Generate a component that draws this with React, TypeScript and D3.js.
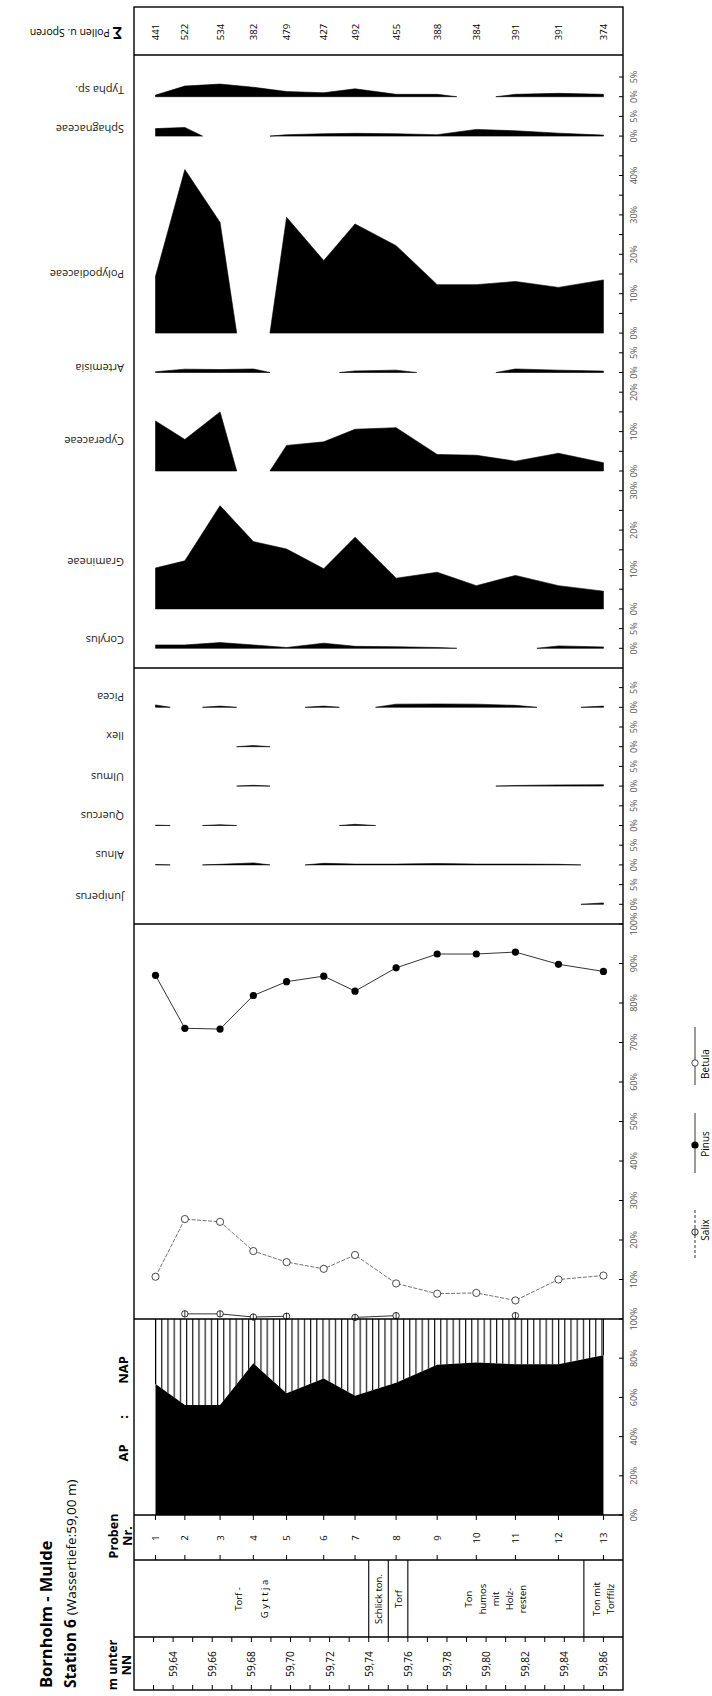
import React from 'react';
import * as d3 from 'd3';

// samples (Proben Nr.) and their depth in m unter NN
const samples = [1, 2, 3, 4, 5, 6, 7, 8, 9, 10, 11, 12, 13];
const sampleDepth = [59.631, 59.646, 59.664, 59.681, 59.698, 59.717, 59.733, 59.754, 59.775, 59.795, 59.815, 59.837, 59.86];
const pollenSum = [441, 522, 534, 382, 479, 427, 492, 455, 388, 384, 391, 391, 374];

const depthTicks = d3.range(59.63, 59.865, 0.01);
const depthLabels = d3.range(59.64, 59.865, 0.02);

// sediment column
const sedimentBounds = [59.62, 59.74, 59.75, 59.76, 59.85, 59.87];
const sedimentText = [['Torf -', 'G y t t j a'], ['Schlick ton.'], ['Torf'], ['Ton', 'humos', 'mit', 'Holz-', 'resten'], ['Ton mit', 'Torffilz']];

// non-tree + spores panel (top to bottom)
const herbTaxa = ['Typha sp.', 'Sphagnaceae', 'Polypodiaceae', 'Artemisia', 'Cyperaceae', 'Gramineae', 'Corylus'];
const herbMax = [5, 5, 45, 5, 20, 30, 5];
const typha = [0.4, 2.7, 3.2, 2.4, 1.3, 1.0, 2.0, 0.6, 0.6, 0, 0.6, 0.85, 0.6];
const sphagnaceae = [1.9, 2.2, 0, 0, 0.35, 0.6, 0.7, 0.6, 0.35, 1.7, 1.35, 0.75, 0.25];
const polypodiaceae = [14.4, 41.5, 28.1, 0, 29.4, 18.4, 27.7, 22.2, 12.3, 12.3, 13.1, 11.6, 13.5];
const artemisia = [0.2, 0.85, 0.75, 0.9, 0, 0, 0.4, 0.6, 0, 0, 0.9, 0.6, 0.35];
const cyperaceae = [12.7, 8.0, 15.0, 0, 6.5, 7.4, 10.6, 11.0, 4.2, 4.0, 2.5, 4.5, 2.1];
const gramineae = [10.4, 12.2, 26.2, 17.1, 15.2, 10.2, 18.2, 7.8, 9.3, 5.9, 8.5, 5.9, 4.5];
const corylus = [0.85, 0.85, 1.45, 0.85, 0.2, 1.3, 0.5, 0.4, 0.2, 0, 0, 0.6, 0.35];
const herbValues = [typha, sphagnaceae, polypodiaceae, artemisia, cyperaceae, gramineae, corylus];

// minor trees panel
const treeTaxa = ['Picea', 'Ilex', 'Ulmus', 'Quercus', 'Alnus', 'Juniperus'];
const treeMax = [5, 5, 5, 5, 5, 5];
const picea = [0.6, 0, 0.3, 0, 0, 0.3, 0, 0.8, 0.85, 0.8, 0.5, 0, 0.3];
const ilex = [0, 0, 0, 0.3, 0, 0, 0, 0, 0, 0, 0, 0, 0];
const ulmus = [0, 0, 0, 0.2, 0, 0, 0, 0, 0, 0, 0.15, 0.3, 0.35];
const quercus = [0.1, 0, 0.2, 0, 0, 0, 0.3, 0, 0, 0, 0, 0, 0];
const alnus = [0.1, 0, 0.15, 0.5, 0, 0.4, 0.2, 0.2, 0.35, 0.2, 0.2, 0.15, 0];
const juniperus = [0, 0, 0, 0, 0, 0, 0, 0, 0, 0, 0, 0, 0.35];
const treeValues = [picea, ilex, ulmus, quercus, alnus, juniperus];

// main tree curves and AP
const pinus = [87.0, 73.6, 73.4, 81.9, 85.4, 86.8, 83.0, 88.9, 92.4, 92.4, 92.9, 89.8, 88.0];
const betula = [10.7, 25.3, 24.6, 17.2, 14.4, 12.7, 16.2, 9.0, 6.4, 6.6, 4.7, 10.0, 11.0];
const salix = [null, 1.3, 1.3, 0.5, 0.7, null, 0.4, 0.85, null, null, 0.85, null, null];
const ap = [66.8, 56.1, 56.1, 77.4, 62.1, 69.7, 60.9, 67.5, 76.6, 77.8, 76.9, 76.9, 81.5];

const curveTicks = [10, 20, 30, 40, 50, 60, 70, 80, 90, 100];
const apTicks = [0, 20, 40, 60, 80, 100];

// layout
const L = 134, R = 623;
const yTop = 7, ySum = 55, yHerb = 668, yTree = 924, yCurve = 1319, yAP = 1515, yProben = 1560, ySed = 1637, yBottom = 1690;
const K = 3.94; // px per percent in the taxon panels
const herbLabelAt = [1.6, 1.8, 15, 1, 7.4, 11.7, 2];
const treeLabelAt = [2.5, 2.5, 2.3, 2.4, 2.5, 1.8];
const font = '"Open Sans", "Liberation Sans", sans-serif';

const x = d3.scaleLinear().domain([59.62, 59.87]).range([L, R]);
const xs = sampleDepth.map((d) => x(d));
const yC = d3.scaleLinear().domain([0, 100]).range([yCurve, yTree]);
const yA = d3.scaleLinear().domain([0, 100]).range([yAP, yCurve]);

function baselines(maxes: number[], bottom: number) {
  const out: number[] = [];
  let b = bottom - 5 * K;
  for (let i = maxes.length - 1; i >= 0; i--) {
    out[i] = b;
    b -= (maxes[i] + 5) * K;
  }
  return out;
}

// nonzero runs; a zero sample closes the shape halfway to it
function runs(values: number[]) {
  const out: [number, number][][] = [];
  let cur: [number, number][] | null = null;
  values.forEach((v, i) => {
    if (v > 0) {
      if (!cur) cur = [[i === 0 ? xs[0] : (xs[i - 1] + xs[i]) / 2, 0]];
      cur.push([xs[i], v]);
    } else if (cur) {
      cur.push([(xs[i - 1] + xs[i]) / 2, 0]);
      out.push(cur);
      cur = null;
    }
  });
  if (cur) {
    (cur as [number, number][]).push([xs[xs.length - 1], 0]);
    out.push(cur);
  }
  return out;
}

function vtext(px: number, py: number, s: string, size: number, extra: any = {}) {
  return (
    <text
      key={`${s}-${px}-${py}`}
      transform={`translate(${px},${py}) rotate(-90)`}
      textAnchor="middle"
      dominantBaseline="central"
      fontSize={size}
      fontFamily={font}
      {...extra}
    >
      {s}
    </text>
  );
}

function TaxonPanel({ names, maxes, values, bottom, labelAt }: any) {
  const base = baselines(maxes, bottom);
  return (
    <g>
      {names.map((name: string, i: number) => {
        const y = d3.scaleLinear().domain([0, maxes[i]]).range([base[i], base[i] - maxes[i] * K]);
        const line = d3.line<[number, number]>().x((d) => d[0]).y((d) => y(d[1]));
        const step = maxes[i] > 5 ? 10 : 5;
        return (
          <g key={name}>
            {runs(values[i]).map((r, j) => (
              <path key={j} d={line(r) + 'Z'} fill="#000" stroke="#000" strokeWidth={0.6} />
            ))}
            {d3.range(0, maxes[i] + 0.1, 5).map((t) => (
              <line key={t} x1={R - 4} x2={R} y1={y(t)} y2={y(t)} stroke="#000" strokeWidth={1} />
            ))}
            {d3.range(0, maxes[i] + 0.1, step).map((t) =>
              vtext(R + 10, y(t), `${t}%`, 9, { fill: '#555' })
            )}
            <text
              transform={`translate(124,${y(labelAt[i])}) rotate(180)`}
              textAnchor="start"
              dominantBaseline="central"
              fontSize={11}
              fontFamily={font}
              fill="#222"
            >
              {name}
            </text>
          </g>
        );
      })}
    </g>
  );
}

function Salix({ cx, cy }: { cx: number; cy: number }) {
  return (
    <g>
      <circle cx={cx} cy={cy} r={3.2} fill="#fff" stroke="#000" strokeWidth={0.8} />
      <line x1={cx} x2={cx} y1={cy - 3.2} y2={cy + 3.2} stroke="#000" strokeWidth={0.8} />
    </g>
  );
}

export default function App() {
  const curve = d3.line<number>().x((d, i) => xs[i]).y((d) => yC(d));
  const salixLine = d3
    .line<number | null>()
    .defined((d) => d != null)
    .x((d, i) => xs[i])
    .y((d) => yC(d as number));
  const apArea = d3.area<number>().x((d, i) => xs[i]).y0(yA(0)).y1((d) => yA(d));
  const napArea = d3.area<number>().x((d, i) => xs[i]).y0(yA(100)).y1((d) => yA(d));

  return (
    <svg width={712} height={1696} style={{ position: 'absolute', left: 0, top: 0, background: '#fff' }}>
      <defs>
        <pattern id="hatch" patternUnits="userSpaceOnUse" width={6.2} height={10}>
          <line x1={0.6} x2={0.6} y1={0} y2={10} stroke="#000" strokeWidth={1.1} />
        </pattern>
      </defs>

      {/* Title */}
      <text
        transform={`translate(52,1688) rotate(-90)`}
        fontSize={16.5}
        fontWeight="bold"
        fontFamily={font}
      >
        Bornholm - Mulde
      </text>
      <text transform={`translate(76,1688) rotate(-90)`} fontFamily={font}>
        <tspan fontSize={15.5} fontWeight="bold">Station 6 </tspan>
        <tspan fontSize={13.5}> (Wassertiefe:59,00 m)</tspan>
      </text>

      {/* Σ column */}
      <text
        transform={`translate(122,33) rotate(180)`}
        textAnchor="start"
        dominantBaseline="central"
        fontFamily={font}
      >
        <tspan fontSize={16} fontWeight="bold">Σ</tspan>
        <tspan fontSize={10.5}> Pollen u. Sporen</tspan>
      </text>
      {pollenSum.map((s, i) => vtext(xs[i], 32, String(s), 9.5))}

      <TaxonPanel names={herbTaxa} maxes={herbMax} values={herbValues} bottom={yHerb} labelAt={herbLabelAt} />
      <TaxonPanel names={treeTaxa} maxes={treeMax} values={treeValues} bottom={yTree} labelAt={treeLabelAt} />

      {/* Pinus / Betula / Salix */}
      <path d={curve(betula) || ''} fill="none" stroke="#333" strokeWidth={0.7} strokeDasharray="4 1.5" />
      <path d={curve(pinus) || ''} fill="none" stroke="#000" strokeWidth={0.8} />
      {pinus.map((v, i) => (
        <circle key={`p${i}`} cx={xs[i]} cy={yC(v)} r={3.6} fill="#000" />
      ))}
      {betula.map((v, i) => (
        <circle key={`b${i}`} cx={xs[i]} cy={yC(v)} r={3.6} fill="#fff" stroke="#000" strokeWidth={0.7} />
      ))}
      {curveTicks.map((t) => (
        <g key={`c${t}`}>
          <line x1={R - 4} x2={R} y1={yC(t)} y2={yC(t)} stroke="#000" />
          {vtext(R + 10, yC(t), `${t}%`, 9, { fill: '#555' })}
        </g>
      ))}

      {/* AP : NAP */}
      <path d={napArea(ap) || ''} fill="url(#hatch)" />
      <path d={apArea(ap) || ''} fill="#000" />
      <line x1={xs[0]} x2={xs[0]} y1={yA(100)} y2={yA(ap[0])} stroke="#000" strokeWidth={1} />
      <line x1={xs[12]} x2={xs[12]} y1={yA(100)} y2={yA(ap[12])} stroke="#000" strokeWidth={1} />
      <path d={salixLine(salix) || ''} fill="none" stroke="#000" strokeWidth={0.8} />
      {salix.map((v, i) => (v == null ? null : <Salix key={`s${i}`} cx={xs[i]} cy={yC(v)} />))}
      {apTicks.map((t) => (
        <g key={`a${t}`}>
          <line x1={R - 4} x2={R} y1={yA(t)} y2={yA(t)} stroke="#000" />
          {vtext(R + 10, yA(t), `${t}%`, 9, { fill: '#555' })}
        </g>
      ))}
      {vtext(123, 1453, 'AP', 13, { fontWeight: 'bold' })}
      {vtext(123, 1417, ':', 13, { fontWeight: 'bold' })}
      {vtext(123, 1370, 'NAP', 13, { fontWeight: 'bold' })}

      {/* Proben Nr. */}
      {samples.map((s, i) => (
        <g key={`n${s}`}>
          <line x1={xs[i]} x2={xs[i]} y1={yAP} y2={yAP + 5} stroke="#000" />
          <line x1={xs[i]} x2={xs[i]} y1={yProben - 5} y2={yProben} stroke="#000" />
          {vtext(xs[i], 1538, String(s), 9.5)}
        </g>
      ))}
      {vtext(113, 1536, 'Proben', 12.5, { fontWeight: 'bold' })}
      {vtext(127, 1536, 'Nr.', 12.5, { fontWeight: 'bold' })}

      {/* sediment */}
      {sedimentBounds.slice(1, -1).map((b) => (
        <line key={`sb${b}`} x1={x(b)} x2={x(b)} y1={yProben} y2={ySed} stroke="#000" strokeWidth={1.1} />
      ))}
      {sedimentText.map((lines, i) => {
        const cx = (x(sedimentBounds[i]) + x(sedimentBounds[i + 1])) / 2;
        const gap = i === 0 ? 26 : 13.5;
        return lines.map((s, j) => vtext(cx + (j - (lines.length - 1) / 2) * gap, 1599, s, 9.5));
      })}

      {/* depth */}
      {depthTicks.map((d) => (
        <g key={`d${d.toFixed(2)}`}>
          <line x1={x(d)} x2={x(d)} y1={ySed} y2={ySed + 5} stroke="#000" />
          <line x1={x(d)} x2={x(d)} y1={yBottom - 5} y2={yBottom} stroke="#000" />
        </g>
      ))}
      {depthLabels.map((d) => vtext(x(d), 1664, d.toFixed(2).replace('.', ','), 10))}
      {vtext(112, 1665, 'm unter', 12.5, { fontWeight: 'bold' })}
      {vtext(126, 1665, 'NN', 12.5, { fontWeight: 'bold' })}

      {/* frame */}
      <rect x={L} y={yTop} width={R - L} height={yBottom - yTop} fill="none" stroke="#000" strokeWidth={1.4} />
      {[ySum, yHerb, yTree, yCurve, yAP, yProben, ySed].map((yy) => (
        <line key={`h${yy}`} x1={L} x2={R} y1={yy} y2={yy} stroke="#000" strokeWidth={1.4} />
      ))}

      {/* legend */}
      <line x1={695} x2={695} y1={1027} y2={1085} stroke="#000" strokeWidth={0.8} />
      <circle cx={695} cy={1063} r={3.2} fill="#fff" stroke="#000" strokeWidth={0.7} />
      {vtext(705, 1064, 'Betula', 10)}
      <line x1={695} x2={695} y1={1113} y2={1173} stroke="#000" strokeWidth={0.8} />
      <circle cx={695} cy={1145} r={3.6} fill="#000" />
      {vtext(705, 1144, 'Pinus', 10)}
      <line x1={695} x2={695} y1={1210} y2={1260} stroke="#000" strokeWidth={0.8} strokeDasharray="3 2" />
      <Salix cx={695} cy={1232} />
      {vtext(705, 1230, 'Salix', 10)}
    </svg>
  );
}
